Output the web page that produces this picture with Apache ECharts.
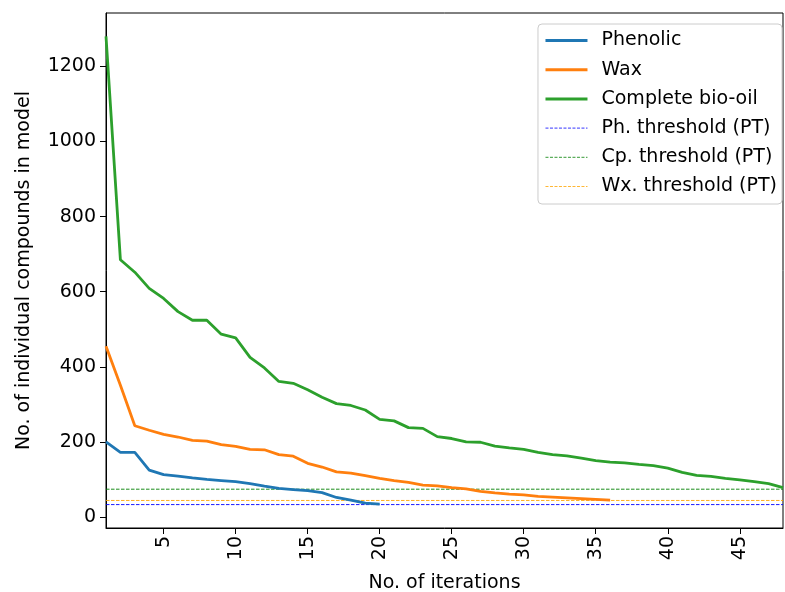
<!DOCTYPE html>
<html>
<head>
<meta charset="utf-8">
<script src="https://cdn.jsdelivr.net/npm/echarts@6/dist/echarts.min.js"></script>
<style>
html,body{margin:0;padding:0;background:#fff;}
#chart{width:785px;height:592px;}
</style>
</head>
<body>
<div id="chart"></div>
<script>
const iterations = [1,2,3,4,5,6,7,8,9,10,11,12,13,14,15,16,17,18,19,20,21,22,23,24,25,26,27,28,29,30,31,32,33,34,35,36,37,38,39,40,41,42,43,44,45,46,47,48];
const phenolic = [200,172,172,125,113,109,104,100,97,94,89,82,76,73,70,65,52,45,37,34];
const wax = [455,351,243,231,220,213,204,202,193,188,180,179,166,162,143,133,120,117,110,103,97,92,85,83,78,75,68,64,61,59,55,53,51,49,47,45];
const bioOil = [1280,685,652,609,582,547,524,524,487,477,425,397,361,356,339,319,302,297,285,260,256,238,236,214,209,200,199,189,184,180,172,166,163,157,150,146,144,140,137,130,119,111,108,103,99,94,89,78];
const thresholdNames = ['Ph. threshold (PT)','Cp. threshold (PT)','Wx. threshold (PT)'];
const thresholdValues = [33, 74, 44];
const xTicks = [5,10,15,20,25,30,35,40,45];
const yTicks = [0,200,400,600,800,1000,1200];

const FONT = 'DejaVu Sans';
const FS = 19;
const xMin = iterations[0], xMax = iterations[iterations.length-1];
const toPairs = arr => arr.map((v,i)=>[iterations[i], v]);

const mainDefs = [
  {name:'Phenolic', data: toPairs(phenolic), color:'#1f77b4'},
  {name:'Wax', data: toPairs(wax), color:'#ff7f0e'},
  {name:'Complete bio-oil', data: toPairs(bioOil), color:'#2ca02c'}
];
const mainSeries = mainDefs.map(s=>({
  name:s.name, type:'line', data:s.data, symbol:'none', showSymbol:false,
  lineStyle:{color:s.color, width:2.8}, itemStyle:{color:s.color},
  animation:false, z:3
}));
const thrColors = ['#0000ff','#008000','#ffa500'];
const thrSeries = thresholdNames.map((n,k)=>({
  name:n, type:'line', symbol:'none', showSymbol:false,
  data:[[xMin, thresholdValues[k]],[xMax, thresholdValues[k]]],
  lineStyle:{color:thrColors[k], width:0.9, type:[3.5,1.5]}, itemStyle:{color:thrColors[k]},
  animation:false, z:2
}));

const legendData = mainDefs.map(s=>({name:s.name, lineStyle:{color:s.color, width:3}}))
  .concat(thresholdNames.map((n,k)=>({name:n, lineStyle:{color:thrColors[k], width:0.8, type:[3,1.5]}})));

const chart = echarts.init(document.getElementById('chart'), null, {renderer:'canvas'});
chart.setOption({
  animation:false,
  backgroundColor:'#fff',
  textStyle:{fontFamily:FONT},
  grid:{left:106, right:2, top:13, bottom:64, outerBoundsMode:'none', containLabel:false, show:true, borderColor:'#000', borderWidth:1, backgroundColor:'transparent'},
  legend:{
    orient:'vertical', right:3, top:24,
    backgroundColor:'rgba(255,255,255,0.8)', borderColor:'#cccccc', borderWidth:1, borderRadius:4,
    padding:[7,5,8,6], itemWidth:42, itemHeight:18, itemGap:10.2,
    itemStyle:{opacity:0},
    textStyle:{fontFamily:FONT, fontSize:FS, color:'#000', padding:[0,0,0,9]},
    data: legendData
  },
  xAxis:{
    type:'value', min:xMin, max:xMax,
    name:'No. of iterations', nameLocation:'middle', nameGap:46,
    nameTextStyle:{fontFamily:FONT, fontSize:FS, color:'#000'},
    axisLine:{show:true, onZero:false, lineStyle:{color:'#000', width:1}},
    axisTick:{show:true, length:6, lineStyle:{color:'#000', width:1}, customValues:xTicks},
    axisLabel:{rotate:90, margin:8, fontFamily:FONT, fontSize:FS, color:'#000', customValues:xTicks, formatter:v=>String(v)},
    splitLine:{show:false}
  },
  yAxis:{
    type:'value', min:-29.35, max:1342.35,
    name:'No. of individual compounds in model', nameLocation:'middle', nameGap:72,
    nameTextStyle:{fontFamily:FONT, fontSize:FS, color:'#000'},
    axisLine:{show:true, onZero:false, lineStyle:{color:'#000', width:1}},
    axisTick:{show:true, length:6, lineStyle:{color:'#000', width:1}, customValues:yTicks},
    axisLabel:{margin:10, fontFamily:FONT, fontSize:FS, color:'#000', customValues:yTicks, formatter:v=>String(v)},
    splitLine:{show:false}
  },
  series: mainSeries.concat(thrSeries)
});
</script>
</body>
</html>
